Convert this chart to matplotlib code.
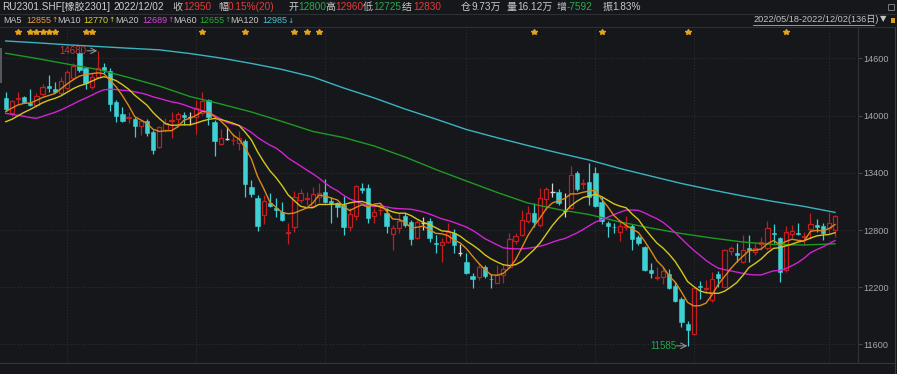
import matplotlib
matplotlib.use('Agg')
import matplotlib.pyplot as plt
import numpy as np
import pandas as pd
from matplotlib.lines import Line2D
from matplotlib.patches import Rectangle

plt.rcParams['font.family'] = ['Liberation Sans', 'Noto Sans CJK SC', 'DejaVu Sans']

# ---------------- data ----------------
opens = [14180, 14030, 14170, 14192, 14137, 14111, 14227, 14315, 14276, 14239,
         14289, 14392, 14657, 14496, 14299, 14404, 14513, 14471, 14141, 14017,
         13980, 13964, 13891, 13947, 13831, 13667, 13849, 13943, 13961, 14006,
         13984, 13984, 14032, 14164, 13936, 13699, 13755, 13740, 13710, 13737,
         13248, 13133, 12957, 13080, 13028, 12992, 12770, 12835, 13115, 13125,
         13052, 13149, 13202, 13104, 13080, 13062, 12835, 12947, 13237, 13237,
         12947, 13005, 12981, 12758, 12818, 12947, 12887, 12719, 12877, 12898,
         12667, 12643, 12678, 12772, 12562, 12468, 12317, 12304, 12409, 12290,
         12247, 12328, 12415, 12688, 12748, 12898, 12975, 12852, 13122, 13202,
         13202, 13003, 13028, 13401, 13280, 13307, 13401, 13097, 12877, 12835,
         12783, 12830, 12842, 12723, 12625, 12380, 12295, 12304, 12338, 12213,
         12076, 11814, 11706, 12213, 12180, 12066, 12338, 12205, 12580, 12562,
         12467, 12608, 12573, 12650, 12608, 12772, 12713, 12380, 12758, 12765,
         12725, 12807, 12852, 12842, 12818, 12800]
highs = [14250, 14160, 14250, 14205, 14276, 14234, 14328, 14426, 14356, 14410,
         14478, 14548, 14670, 14513, 14446, 14680, 14548, 14500, 14160, 14094,
         14041, 13990, 13954, 13961, 13850, 13891, 13972, 14035, 14041, 14041,
         14040, 14164, 14246, 14175, 13950, 13857, 13884, 13814, 13842, 13750,
         13325, 13170, 13167, 13193, 13133, 13090, 12870, 13214, 13227, 13202,
         13248, 13298, 13332, 13149, 13097, 13157, 13028, 13272, 13290, 13282,
         13028, 13080, 13028, 12852, 12975, 12975, 12905, 12905, 12940, 12922,
         12748, 12713, 12870, 12807, 12653, 12555, 12345, 12450, 12433, 12338,
         12433, 12443, 12765, 12765, 13010, 13052, 13086, 13237, 13254, 13298,
         13227, 13185, 13471, 13420, 13332, 13499, 13464, 13149, 12898, 12877,
         12905, 12947, 12863, 12748, 12632, 12450, 12415, 12409, 12388, 12258,
         12100, 11849, 12200, 12268, 12276, 12363, 12373, 12600, 12632, 12660,
         12748, 12748, 12660, 12730, 12898, 12863, 12730, 12842, 12852, 12870,
         12783, 12975, 12912, 12870, 12992, 12960]
lows = [14050, 13997, 14120, 14128, 14100, 14094, 14205, 14250, 14234, 14216,
        14269, 14374, 14460, 14276, 14276, 14390, 14452, 14053, 13928, 13936,
        13919, 13776, 13797, 13786, 13597, 13657, 13832, 13762, 13884, 13902,
        13902, 13807, 14006, 13902, 13580, 13692, 13744, 13692, 13639, 13150,
        13150, 12793, 12863, 13046, 12940, 12898, 12653, 12783, 13080, 13062,
        13038, 13097, 13080, 12877, 12940, 12748, 12793, 12905, 13185, 12870,
        12877, 12957, 12765, 12590, 12765, 12828, 12643, 12702, 12800, 12678,
        12555, 12468, 12667, 12555, 12527, 12338, 12188, 12276, 12300, 12188,
        12240, 12240, 12398, 12653, 12737, 12877, 12835, 12835, 13010, 13150,
        13062, 12940, 13020, 13210, 13227, 13062, 13038, 12863, 12723, 12765,
        12688, 12800, 12590, 12643, 12373, 12293, 12280, 12234, 12178, 12048,
        11786, 11585, 11700, 12073, 12136, 12048, 12205, 12205, 12538, 12468,
        12457, 12468, 12538, 12590, 12590, 12660, 12258, 12363, 12713, 12748,
        12643, 12702, 12783, 12695, 12765, 12725]
closes = [14070, 14150, 14185, 14146, 14111, 14205, 14303, 14288, 14251, 14362,
          14457, 14524, 14478, 14339, 14404, 14499, 14478, 14122, 13997, 13948,
          13986, 13894, 13947, 13814, 13639, 13877, 13926, 13954, 14017, 13982,
          13984, 14077, 14157, 13989, 13737, 13762, 13755, 13744, 13762, 13283,
          13178, 12842, 13108, 13052, 13012, 12905, 12776, 13149, 13185, 13138,
          13174, 13185, 13097, 13080, 13038, 12835, 12968, 13262, 13220, 12922,
          12986, 13010, 12842, 12818, 12894, 12852, 12702, 12880, 12877, 12713,
          12653, 12678, 12783, 12643, 12562, 12352, 12289, 12409, 12317, 12283,
          12328, 12388, 12702, 12737, 12905, 12975, 12887, 13133, 13227, 13202,
          13086, 13003, 13377, 13227, 13290, 13143, 13052, 12898, 12842, 12828,
          12842, 12835, 12702, 12660, 12380, 12345, 12300, 12373, 12188, 12055,
          11838, 11751, 12188, 12200, 12188, 12283, 12293, 12590, 12614, 12538,
          12590, 12590, 12608, 12678, 12818, 12758, 12363, 12783, 12793, 12760,
          12730, 12863, 12835, 12772, 12870, 12950]
# closes of the 19 sessions before the window (estimated from the MA curves)
prev_closes = [14380, 14370, 14360, 14370, 14357, 13900, 13860, 13840, 13850, 13833,
               13900, 13820, 13780, 13800, 13855, 13960, 14020, 14060, 14095]
# MA60 / MA120 at sessions 0, 5, 10, ... 135
ma_long_idx = [0, 5, 10, 15, 20, 25, 30, 35, 40, 45, 50, 55, 60, 65,
               70, 75, 80, 85, 90, 95, 100, 105, 110, 115, 120, 125, 130, 135]
ma60_vals = [14654, 14600, 14541, 14484, 14400, 14310, 14200, 14122, 14038, 13938,
             13834, 13770, 13681, 13566, 13435, 13314, 13194, 13083, 13015, 12962,
             12884, 12821, 12763, 12716, 12674, 12648, 12643, 12655]
ma120_vals = [14783, 14764, 14743, 14725, 14707, 14690, 14651, 14604, 14547, 14484,
              14405, 14290, 14185, 14069, 13964, 13854, 13768, 13686, 13608, 13534,
              13445, 13366, 13288, 13220, 13157, 13099, 13047, 12985]
y_ticks = [11600, 12200, 12800, 13400, 14000, 14600]
month_starts = [10, 31, 52, 75, 96, 112, 134]
star_idx = [2, 4, 5, 6, 7, 8, 13, 14, 32, 39, 47, 49, 51, 86, 97, 111, 127]
high_mark = (15, 14680)
low_mark = (111, 11585)

# ---------------- style ----------------
BG = '#15171b'
GRID = '#2e3137'
RED = '#c41d20'
CYAN = '#3fd0d3'
WHITE = '#d6d6d6'
TXT = '#c8c8c8'
NUM_RED = '#e63a3a'
NUM_GREEN = '#26ae48'
C_MA5, C_MA10, C_MA20, C_MA60, C_MA120 = '#db8a18', '#d6c61c', '#d222d2', '#1d9a22', '#3bb4c2'
FAM = ['Liberation Sans', 'Noto Sans CJK SC', 'DejaVu Sans']

W, H = 897, 374
fig = plt.figure(figsize=(W / 100, H / 100), dpi=100, facecolor=BG)


def fy(py):
    return 1 - py / H


ax = fig.add_axes([0, fy(363), 858 / W, (363 - 28) / H])
ax.set_facecolor(BG)
ax.set_xlim(-0.928, 138.74)
ax.set_ylim(11405, 14919)

for s in ['top', 'left', 'bottom']:
    ax.spines[s].set_visible(False)
ax.spines['right'].set_color('#2f3238')
ax.spines['right'].set_linewidth(0.8)
ax.set_xticks([])
ax.yaxis.tick_right()
ax.set_yticks(y_ticks)
ax.set_yticklabels([str(v) for v in y_ticks], family=FAM)
ax.tick_params(axis='y', direction='out', length=3, width=0.6, pad=1,
               color='#50545a', labelcolor='#a4a8ad', labelsize=6.6)

for v in y_ticks:
    ax.axhline(v, color=GRID, lw=0.7, ls=(0, (1, 2)), zorder=0)
for m in month_starts:
    ax.axvline(m, color=GRID, lw=0.7, ls=(0, (1, 2)), zorder=0)

o = np.array(opens, float)
h = np.array(highs, float)
l = np.array(lows, float)
c = np.array(closes, float)
n = len(c)
idx = np.arange(n)
up = c > o
dn = c < o
fl = c == o
bw = 0.68

ax.vlines(idx[up], l[up], h[up], color=RED, lw=0.9, zorder=2)
ax.bar(idx[up], np.maximum(c[up] - o[up], 8), bottom=o[up], width=bw,
       facecolor=BG, edgecolor=RED, lw=0.9, zorder=3)
ax.vlines(idx[dn], l[dn], h[dn], color=CYAN, lw=0.9, zorder=2)
ax.bar(idx[dn], np.maximum(o[dn] - c[dn], 8), bottom=c[dn], width=bw,
       facecolor=CYAN, edgecolor=CYAN, lw=0.4, zorder=3)
ax.vlines(idx[fl], l[fl], h[fl], color=WHITE, lw=0.9, zorder=2)
ax.hlines(o[fl], idx[fl] - bw / 2, idx[fl] + bw / 2, color=WHITE, lw=1.0, zorder=3)

allc = pd.Series(list(prev_closes) + list(closes), dtype=float)
k = len(prev_closes)
ma5 = allc.rolling(5).mean().to_numpy()[k:]
ma10 = allc.rolling(10).mean().to_numpy()[k:]
ma20 = allc.rolling(20).mean().to_numpy()[k:]

ax.plot(ma_long_idx, ma120_vals, color=C_MA120, lw=1.0, zorder=4)
ax.plot(ma_long_idx, ma60_vals, color=C_MA60, lw=1.0, zorder=4)
ax.plot(idx, ma20, color=C_MA20, lw=1.0, zorder=4)
ax.plot(idx, ma10, color=C_MA10, lw=1.0, zorder=4)
ax.plot(idx, ma5, color=C_MA5, lw=1.0, zorder=4)

# event stars
ax.plot(star_idx, [14877] * len(star_idx), ls='none', marker='*', ms=3.8,
        color='#e6a21a', mec='#e6a21a', zorder=5)

# high / low markers
hx, hv = high_mark
ax.annotate('', xy=(hx - 0.1, hv), xytext=(hx - 1.75, hv),
            arrowprops=dict(arrowstyle='->', color='#9a9a9a', lw=0.7, shrinkA=0, shrinkB=0), zorder=6)
ax.text(hx - 1.8, hv, str(hv), color='#c83a3a', fontsize=7, ha='right', va='center', zorder=6)
lx, lv = low_mark
ax.annotate('', xy=(lx - 0.05, lv), xytext=(lx - 1.8, lv),
            arrowprops=dict(arrowstyle='->', color='#9a9a9a', lw=0.7, shrinkA=0, shrinkB=0), zorder=6)
ax.text(lx - 1.85, lv, str(lv), color='#22a84a', fontsize=7, ha='right', va='center', zorder=6)

# ---------------- header ----------------
row1 = [
    (2, 'RU2301.SHF[橡胶2301]', '#d0d0d0'),
    (113, '2022/12/02', '#d0d0d0'),
    (172, '收', TXT), (183, '12950', NUM_RED),
    (218, '幅', TXT), (228, '0.15%(20)', NUM_RED),
    (288, '开', TXT), (298, '12800', NUM_GREEN),
    (325, '高', TXT), (335, '12960', NUM_RED),
    (363, '低', TXT), (373, '12725', NUM_GREEN),
    (402, '结', TXT), (413, '12830', NUM_RED),
    (461, '仓', TXT), (471, '9.73万', TXT),
    (506, '量', TXT), (517, '16.12万', TXT),
    (557, '增', TXT), (567, '-7592', NUM_GREEN),
    (603, '振', TXT), (612, '1.83%', TXT),
]
for x, t, col in row1:
    fig.text(x / W, fy(7), t, color=col, fontsize=7.2, ha='left', va='center', family=FAM)

row2 = [
    (3, 'MA5', TXT), (26, '12855', '#e8a035'),
    (57, 'MA10', TXT), (83, '12770', '#d8d020'),
    (115, 'MA20', TXT), (142, '12689', '#e040e0'),
    (173, 'MA60', TXT), (199, '12655', '#22b032'),
    (230, 'MA120', TXT), (262, '12985', '#40c4d4'),
]
arrows = [(51.2, '↑', '#e8a035'), (108.2, '↑', '#d8d020'), (167.2, '↑', '#e040e0'),
          (224.2, '↑', '#22b032'), (287.2, '↓', '#40c4d4')]
for x, t, col in row2:
    fig.text(x / W, fy(20.5), t, color=col, fontsize=6.5, ha='left', va='center', family=FAM)
for x, t, col in arrows:
    fig.text(x / W, fy(20.5), t, color=col, fontsize=5.4, ha='left', va='center',
             family=['DejaVu Sans'])

fig.text(753 / W, fy(19.5), '2022/05/18-2022/12/02(136日)', color='#c4c4c4',
         fontsize=6.6, ha='left', va='center', family=FAM)
fig.add_artist(Line2D([753 / W, 874 / W], [fy(24.5), fy(24.5)], color='#b0b0b0', lw=0.6))
fig.text(883 / W, fy(19), '▼', color='#c4c4c4', fontsize=6, ha='center', va='center',
         family=['DejaVu Sans'])
fig.add_artist(Rectangle((891 / W, fy(23)), 4 / W, 5 / H, facecolor='#d8a020', edgecolor='none'))
fig.add_artist(Rectangle((888 / W, fy(10)), 6 / W, 6 / H, facecolor='none', edgecolor='#8a8a8a', lw=0.6))

# separators / borders
for yy in (13.5, 27.3):
    fig.add_artist(Line2D([0, 895 / W], [fy(yy), fy(yy)], color='#2c2f34', lw=0.8))
fig.add_artist(Line2D([0, 895 / W], [fy(363), fy(363)], color='#33363c', lw=0.8))
fig.add_artist(Line2D([895 / W, 895 / W], [fy(27.3), fy(374)], color='#3a3d42', lw=0.8))
fig.add_artist(Rectangle((0, fy(83)), 2 / W, 35 / H, facecolor='#55585e', edgecolor='none'))

fig.savefig('out.png', dpi=100, facecolor=BG)
